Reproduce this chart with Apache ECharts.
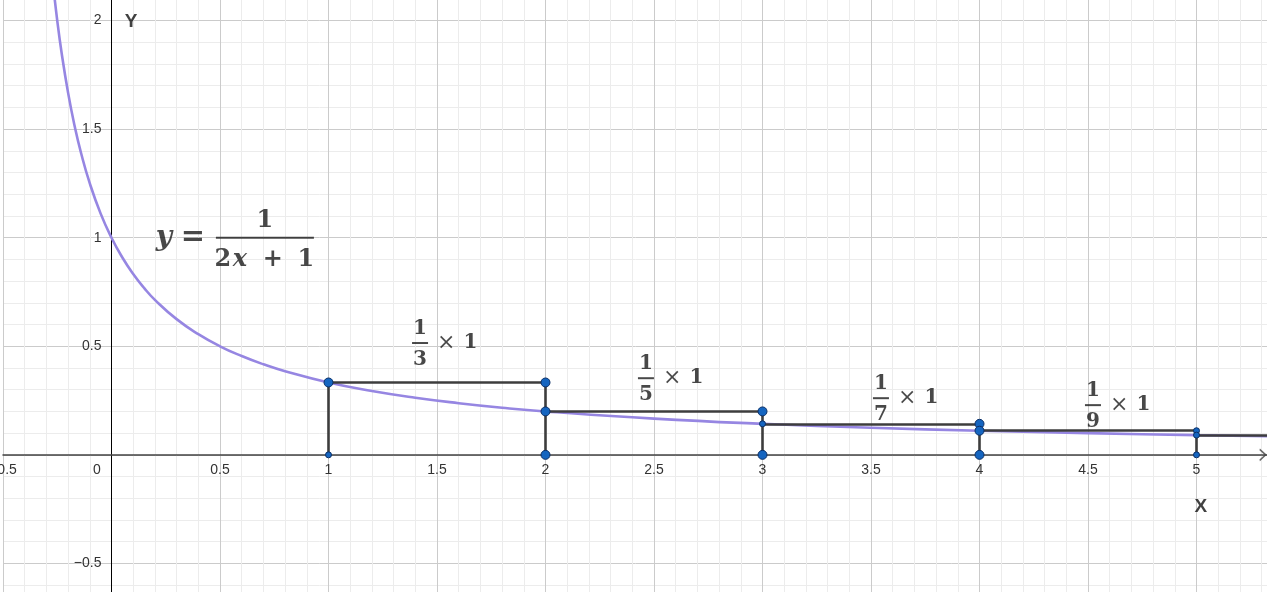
<!DOCTYPE html>
<html><head><meta charset="utf-8">
<script src="https://cdn.jsdelivr.net/npm/echarts@6/dist/echarts.min.js"></script>
<style>html,body{margin:0;padding:0;background:#fff;overflow:hidden}#chart{width:1267px;height:592px}</style>
</head><body><div id="chart"></div>
<script>
// ---- data ----
const curveX = [-0.27,-0.25,-0.23,-0.2,-0.17,-0.14,-0.1,-0.05,0,0.05,0.1,0.15,0.2,0.3,0.4,0.5,0.6,0.7,0.8,1,1.2,1.4,1.6,1.8,2,2.5,3,3.5,4,4.5,5,5.35];
const curveY = [2.174,2.0,1.852,1.667,1.515,1.389,1.25,1.111,1.0,0.909,0.833,0.769,0.714,0.625,0.556,0.5,0.455,0.417,0.385,0.333,0.294,0.263,0.238,0.217,0.2,0.167,0.143,0.125,0.111,0.1,0.0909,0.0855];
const stepX = [1,2,3,4,5];
const stepH = [0.3333,0.2,0.1429,0.1111,0.0909];
const stepEndX = 5.35;
const fracDen = ['3','5','7','9'];
const fracPosX = [1.385,2.426,3.509,4.486];
const fracPosY = [0.515,0.353,0.261,0.229];
const formulaPos = [0.177,1.0];
const axisNames = ['Y','X'];
const axisNameX = [0.09,5.02];
const axisNameY = [1.994,-0.24];
const arrowPos = [5.305,0];
const xRange = [-0.5,5.5];
const yRange = [-1,2.5];
const tickStep = 0.5;

// ---- layout (pixels) ----
const W = 1267, H = 592;
const gLeft = 3, gRight = -38, gTop = -88, gBottom = -80;
const gW = W - gLeft - gRight, gH = H - gTop - gBottom;
const zeroXpx = gLeft + (0 - xRange[0]) / (xRange[1] - xRange[0]) * gW;
const zeroYpx = gTop + (yRange[1] - 0) / (yRange[1] - yRange[0]) * gH;

// ---- build ----
const curve = curveX.map((x,i)=>[x,curveY[i]]);
const segs = [];
for (let i=0;i<stepX.length;i++){
  const x = stepX[i];
  const top = i===0 ? stepH[0] : Math.max(stepH[i-1], stepH[i]);
  segs.push({coords:[[x,0],[x,top]]});
  const xn = i < stepX.length-1 ? stepX[i+1] : stepEndX;
  segs.push({coords:[[x,stepH[i]],[xn,stepH[i]]]});
}
const bigPts = [], smallPts = [];
smallPts.push([stepX[0],0]);
bigPts.push([stepX[0],stepH[0]],[stepX[1],stepH[0]],[stepX[1],stepH[1]],[stepX[2],stepH[1]]);
smallPts.push([stepX[2],stepH[2]]);
bigPts.push([stepX[3],stepH[2]],[stepX[3],stepH[3]]);
smallPts.push([stepX[4],stepH[3]],[stepX[4],stepH[4]],[stepX[4],0]);
bigPts.push([stepX[1],0],[stepX[2],0],[stepX[3],0]);

const fmt = v => String(v).replace('-', '\u2212');
const mathFont = 'DejaVu Serif';
const ink = '#1a1a1a';
const sans = 'Liberation Sans, Arial, sans-serif';

const fracData = fracDen.map((d,i)=>({
  value:[fracPosX[i],fracPosY[i]],
  label:{formatter:'{n|1}{s|}\n{b|}{m|\u00d7}{t|1}\n{d|'+d+'}{s|}'}
}));

const option = {
  animation:false,
  backgroundColor:'#fff',
  grid:{left:gLeft,right:gRight,top:gTop,bottom:gBottom,containLabel:false,outerBoundsMode:'none'},
  xAxis:{
    type:'value', min:xRange[0], max:xRange[1], interval:tickStep,
    position:'bottom', offset:-(gTop + gH - zeroYpx),
    axisLine:{onZero:false,lineStyle:{color:'#444',width:1.5}},
    axisTick:{show:false},
    minorTick:{show:false,splitNumber:5},
    splitLine:{show:true,lineStyle:{color:'#cbcbcb',width:1}},
    minorSplitLine:{show:true,lineStyle:{color:'#ececec',width:1}},
    axisLabel:{
      margin:8, fontSize:14, color:'#333', fontFamily:sans,
      showMinLabel:true, showMaxLabel:true, hideOverlap:false,
      formatter:v => v===0 ? '{o|0}' : fmt(v),
      rich:{o:{padding:[0,29,0,0],fontSize:14,color:'#333',fontFamily:sans}}
    }
  },
  yAxis:{
    type:'value', min:yRange[0], max:yRange[1], interval:tickStep,
    position:'left', offset:-(zeroXpx - gLeft),
    axisLine:{onZero:false,lineStyle:{color:'#000',width:1}},
    axisTick:{show:false},
    minorTick:{show:false,splitNumber:5},
    splitLine:{show:true,lineStyle:{color:'#cbcbcb',width:1}},
    minorSplitLine:{show:true,lineStyle:{color:'#ececec',width:1}},
    axisLabel:{
      margin:10, fontSize:14, color:'#333', fontFamily:sans, hideOverlap:false,
      formatter:v => v===0 ? '' : fmt(v)
    }
  },
  series:[
    {type:'line', data:curve, smooth:true, showSymbol:false, z:2,
     lineStyle:{color:'#9686e2',width:2.6}},
    {type:'lines', coordinateSystem:'cartesian2d', data:segs, z:3,
     lineStyle:{color:'#3d3d3d',width:2.6,opacity:1}},
    {type:'scatter', data:bigPts, symbolSize:9, z:4,
     itemStyle:{color:'#1565c0',borderColor:'#0b2f66',borderWidth:1,opacity:1}},
    {type:'scatter', data:smallPts, symbolSize:6, z:4,
     itemStyle:{color:'#1565c0',borderColor:'#0b2f66',borderWidth:1,opacity:1}},
    {type:'scatter', data:[arrowPos], symbol:'path://M0,0 L10,8 L0,16', symbolSize:[6,11],
     symbolKeepAspect:false, z:4, silent:true,
     itemStyle:{color:'none',borderColor:'#444',borderWidth:1.4}},
    {type:'scatter', data:fracData, symbol:'circle', symbolSize:0.1, z:5,
     itemStyle:{color:'transparent'}, silent:true,
     label:{show:true, position:'inside', align:'left', verticalAlign:'middle', offset:[0,3],
       rich:{
         n:{width:16,align:'center',fontSize:20,fontFamily:mathFont,fontWeight:'bold',lineHeight:24,color:ink},
         d:{width:16,align:'center',fontSize:20,fontFamily:mathFont,fontWeight:'bold',lineHeight:30,color:ink},
         s:{width:50},
         b:{width:16,height:2,backgroundColor:ink,lineHeight:4},
         m:{fontSize:22,fontFamily:mathFont,fontWeight:'normal',lineHeight:4,color:ink,padding:[0,0,0,9]},
         t:{fontSize:20,fontFamily:mathFont,fontWeight:'bold',lineHeight:4,color:ink,padding:[0,0,0,8]}
       }}},
    {type:'scatter', data:[{value:formulaPos,
       label:{formatter:'{s0|}{fn|1}\n{fy|y}{fe|=}{g|}{fb|}\n{s0|}{f2|2}{fx|x}{fp|+}{f1|1}'}}],
     symbol:'circle', symbolSize:0.1, z:5, itemStyle:{color:'transparent'}, silent:true,
     label:{show:true, position:'inside', align:'left', verticalAlign:'middle', offset:[0,5],
       rich:{
         s0:{width:65,lineHeight:30},
         fn:{width:98,align:'center',fontSize:24,fontFamily:mathFont,fontWeight:'bold',lineHeight:30,color:ink},
         fy:{width:26,align:'center',fontSize:28,fontFamily:mathFont,fontWeight:'bold',fontStyle:'italic',lineHeight:4,color:ink},
         fe:{width:32,align:'center',fontSize:29,fontFamily:mathFont,fontWeight:'bold',lineHeight:4,color:ink},
         g:{width:7,lineHeight:4},
         fb:{width:98,height:2,backgroundColor:ink,lineHeight:4},
         f2:{width:16,align:'center',fontSize:24,fontFamily:mathFont,fontWeight:'bold',lineHeight:40,color:ink},
         fx:{width:18,align:'center',fontSize:24,fontFamily:mathFont,fontWeight:'bold',fontStyle:'italic',lineHeight:40,color:ink},
         fp:{width:48,align:'center',fontSize:24,fontFamily:mathFont,fontWeight:'bold',lineHeight:40,color:ink},
         f1:{width:18,align:'center',fontSize:24,fontFamily:mathFont,fontWeight:'bold',lineHeight:40,color:ink}
       }}},
    {type:'scatter', data:axisNames.map((n,i)=>({value:[axisNameX[i],axisNameY[i]],name:n})),
     symbol:'circle', symbolSize:0.1, z:5, itemStyle:{color:'transparent'}, silent:true,
     label:{show:true, position:'inside', formatter:p=>p.name, fontSize:19, fontWeight:'bold',
       fontFamily:sans, color:'#111'}}
  ]
};
const chart = echarts.init(document.getElementById('chart'), null, {renderer:'canvas'});
chart.setOption(option);
</script></body></html>
